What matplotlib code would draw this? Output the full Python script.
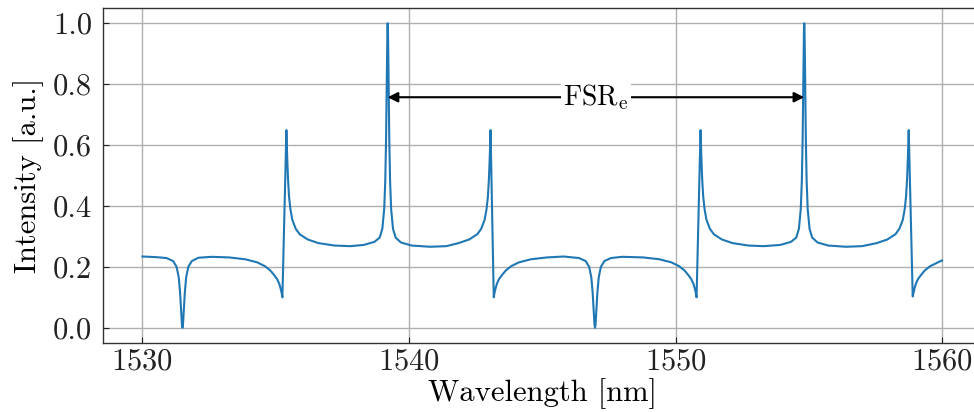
import matplotlib
matplotlib.use("Agg")
import matplotlib.pyplot as plt

plt.rcParams['font.family'] = ['cmr10', 'DejaVu Serif']
plt.rcParams['mathtext.fontset'] = 'cm'
plt.rcParams['axes.formatter.use_mathtext'] = True

wavelength = [
    1530.00, 1530.50, 1530.90, 1531.15, 1531.28, 1531.36, 1531.41, 1531.45, 1531.48, 1531.50,
    1531.52, 1531.55, 1531.59, 1531.64, 1531.72, 1531.85, 1532.10, 1532.60, 1533.25, 1533.85,
    1534.30, 1534.60, 1534.80, 1534.95, 1535.05, 1535.13, 1535.18, 1535.22, 1535.25,
    1535.40, 1535.43, 1535.46, 1535.50, 1535.55, 1535.62, 1535.75, 1535.90, 1536.20, 1536.60,
    1537.20, 1537.80, 1538.30, 1538.70, 1538.90, 1539.00, 1539.07, 1539.11, 1539.14, 1539.16,
    1539.18, 1539.19, 1539.20, 1539.21, 1539.22, 1539.24, 1539.26, 1539.29, 1539.33, 1539.40,
    1539.50, 1539.70, 1540.10, 1540.80, 1541.40, 1541.86, 1542.26, 1542.56, 1542.71, 1542.84,
    1542.91, 1542.96, 1543.00, 1543.03, 1543.06,
    1543.18, 1543.21, 1543.25, 1543.30, 1543.38, 1543.48, 1543.63, 1543.83, 1544.13, 1544.58,
    1545.18, 1545.80, 1546.38, 1546.63, 1546.76, 1546.84, 1546.89, 1546.93, 1546.96, 1546.98,
    1547.00, 1547.03, 1547.07, 1547.12, 1547.20, 1547.33, 1547.58, 1548.00, 1548.79, 1549.39,
    1549.84, 1550.14, 1550.34, 1550.49, 1550.59, 1550.67, 1550.72, 1550.76, 1550.79,
    1550.94, 1550.97, 1551.00, 1551.04, 1551.09, 1551.16, 1551.29, 1551.44, 1551.74, 1552.14,
    1552.74, 1553.30, 1553.93, 1554.33, 1554.53, 1554.63, 1554.70, 1554.74, 1554.77, 1554.79,
    1554.81, 1554.82, 1554.83, 1554.84, 1554.85, 1554.87, 1554.89, 1554.92, 1554.96, 1555.03,
    1555.13, 1555.33, 1555.73, 1556.40, 1557.00, 1557.55, 1557.95, 1558.25, 1558.40, 1558.53,
    1558.60, 1558.65, 1558.69, 1558.72, 1558.75,
    1558.90, 1558.93, 1558.97, 1559.02, 1559.10, 1559.20, 1559.35, 1559.55, 1559.85, 1560.00,
]
intensity = [
    0.234, 0.232, 0.229, 0.219, 0.200, 0.166, 0.117, 0.055, 0.011, 0.000,
    0.011, 0.055, 0.117, 0.166, 0.200, 0.219, 0.230, 0.233, 0.231, 0.225,
    0.215, 0.202, 0.188, 0.172, 0.160, 0.145, 0.130, 0.115, 0.100,
    0.649, 0.560, 0.490, 0.430, 0.390, 0.355, 0.325, 0.307, 0.290, 0.278,
    0.270, 0.268, 0.272, 0.282, 0.296, 0.325, 0.390, 0.483, 0.620, 0.763,
    0.922, 0.979, 1.000, 0.979, 0.922, 0.763, 0.620, 0.483, 0.390, 0.325,
    0.296, 0.280, 0.270, 0.266, 0.268, 0.278, 0.290, 0.307, 0.325, 0.355,
    0.390, 0.430, 0.490, 0.560, 0.649,
    0.100, 0.115, 0.130, 0.145, 0.160, 0.172, 0.188, 0.202, 0.215, 0.225,
    0.231, 0.234, 0.229, 0.219, 0.200, 0.166, 0.117, 0.055, 0.011, 0.000,
    0.011, 0.055, 0.117, 0.166, 0.200, 0.219, 0.229, 0.233, 0.231, 0.225,
    0.215, 0.202, 0.188, 0.172, 0.160, 0.145, 0.130, 0.115, 0.100,
    0.649, 0.560, 0.490, 0.430, 0.390, 0.355, 0.325, 0.307, 0.290, 0.278,
    0.270, 0.268, 0.272, 0.282, 0.296, 0.325, 0.390, 0.483, 0.620, 0.763,
    0.922, 0.979, 1.000, 0.979, 0.922, 0.763, 0.620, 0.483, 0.390, 0.325,
    0.296, 0.280, 0.270, 0.266, 0.268, 0.278, 0.290, 0.307, 0.325, 0.355,
    0.390, 0.430, 0.490, 0.560, 0.649,
    0.103, 0.115, 0.130, 0.145, 0.160, 0.172, 0.188, 0.202, 0.215, 0.221,
]

fsr_start = 1539.20
fsr_end = 1554.83
fsr_level = 0.757
fsr_label = r"FSR$_\mathrm{e}$"

xticks = [1530, 1540, 1550, 1560]
yticks = [0.0, 0.2, 0.4, 0.6, 0.8, 1.0]

fig = plt.figure(figsize=(9.74, 4.12), dpi=100)
ax = fig.add_axes([102.5 / 974, 69 / 412, 879.5 / 974, 335 / 412])

ax.plot(wavelength, intensity, color='#1f77b4', lw=1.5, zorder=3)

ax.set_xlim(1528.5, 1561.5)
ax.set_ylim(-0.05, 1.05)
ax.set_xticks(xticks)
ax.set_yticks(yticks)
ax.set_yticklabels([f"{v:.1f}" for v in yticks])
ax.grid(True, color='#b0b0b0', lw=1.0, zorder=0)
ax.set_axisbelow(True)
ax.tick_params(direction='in', length=4, labelsize=22, colors='#222222')
ax.tick_params(axis='y', pad=7.5)
for s in ax.spines.values():
    s.set_color('#333333')
    s.set_linewidth(1.0)

ax.set_xlabel("Wavelength [nm]", fontsize=22, labelpad=2)
ax.set_ylabel("Intensity [a.u.]", fontsize=22, labelpad=6)

ax.annotate("", xy=(fsr_start, fsr_level), xytext=(fsr_end, fsr_level),
            arrowprops=dict(arrowstyle='<|-|>', color='black', lw=1.5,
                            mutation_scale=15, shrinkA=0, shrinkB=0), zorder=4)
ax.text((fsr_start + fsr_end) / 2, fsr_level, fsr_label, ha='center', va='center',
        fontsize=20, bbox=dict(facecolor='white', edgecolor='none', pad=2), zorder=5)

fig.savefig("out.png", dpi=100)
